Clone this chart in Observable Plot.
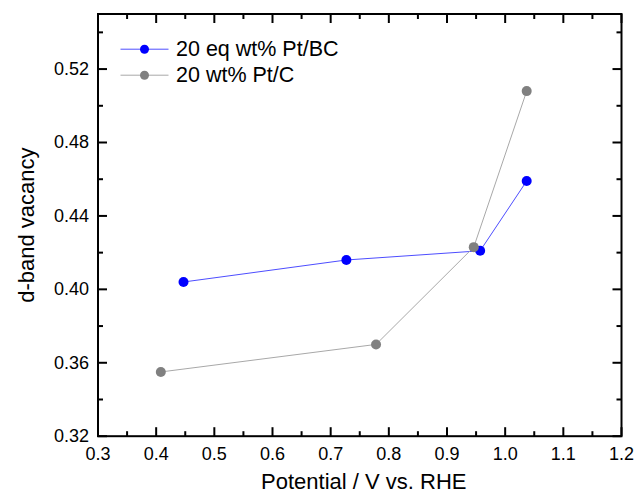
<!DOCTYPE html>
<html><head><meta charset="utf-8">
<script src="https://cdn.jsdelivr.net/npm/d3@7"></script>
<script src="https://cdn.jsdelivr.net/npm/@observablehq/plot@0.6"></script>
<style>
body{margin:0;background:#fff;}
#chart svg{font-family:'Liberation Sans', Arial, sans-serif;font-size:18px;color:#000;background:#fff;}
</style>
</head><body><div id="chart"></div>
<script>
const seriesNames = ["20 eq wt% Pt/BC", "20 wt% Pt/C"];
const markerColors = ["#0000ff", "#808080"];
const lineColors = ["#4d4dff", "#a8a8a8"];
const potentialBC = [0.447, 0.727, 0.957, 1.037];
const vacancyBC = [0.404, 0.416, 0.421, 0.459];
const potentialC = [0.408, 0.778, 0.946, 1.037];
const vacancyC = [0.355, 0.370, 0.423, 0.508];
const xMajorTicks = [0.3, 0.4, 0.5, 0.6, 0.7, 0.8, 0.9, 1.0, 1.1, 1.2];
const xMinorTicks = [0.35, 0.45, 0.55, 0.65, 0.75, 0.85, 0.95, 1.05, 1.15];
const yMajorTicks = [0.32, 0.36, 0.40, 0.44, 0.48, 0.52];
const yMinorTicks = [0.34, 0.38, 0.42, 0.46, 0.50, 0.54];
const xDomain = [0.3, 1.2];
const yDomain = [0.32, 0.55];
const xLabel = "Potential / V vs. RHE";
const yLabel = "d-band vacancy";

const W = 635, Ht = 494;
const mL = 97.5, mR = 14, mT = 13.5, mB = 58.3;
const PW = W - mL - mR, PH = Ht - mT - mB;
// data units per pixel (for inward tick lengths)
const kx = (xDomain[1] - xDomain[0]) / PW;
const ky = (yDomain[1] - yDomain[0]) / PH;
const MAJ = 9, MIN = 5;

const series = seriesNames.map((name, i) => ({
  name,
  rows: (i === 0 ? potentialBC : potentialC).map((x, j) => ({x, y: (i === 0 ? vacancyBC : vacancyC)[j]})),
  marker: markerColors[i],
  line: lineColors[i]
}));

const hline = {draw(ctx) { ctx.moveTo(-24, 0); ctx.lineTo(24, 0); }};
const tickStroke = {stroke: "#000", strokeWidth: 2, strokeOpacity: 1};

const marks = [];
marks.push(Plot.frame({stroke: "#000", strokeWidth: 2}));
// inward ticks on all four sides, drawn as short links
[[xMajorTicks, MAJ], [xMinorTicks, MIN]].forEach(([t, len]) => {
  marks.push(Plot.link(t, {x1: d => d, x2: d => d, y1: () => yDomain[0], y2: () => yDomain[0] + len * ky, ...tickStroke}));
  marks.push(Plot.link(t, {x1: d => d, x2: d => d, y1: () => yDomain[1] - len * ky, y2: () => yDomain[1], ...tickStroke}));
});
[[yMajorTicks, MAJ], [yMinorTicks, MIN]].forEach(([t, len]) => {
  marks.push(Plot.link(t, {y1: d => d, y2: d => d, x1: () => xDomain[0], x2: () => xDomain[0] + len * kx, ...tickStroke}));
  marks.push(Plot.link(t, {y1: d => d, y2: d => d, x1: () => xDomain[1] - len * kx, x2: () => xDomain[1], ...tickStroke}));
});

// data
series.forEach(s => {
  marks.push(Plot.line(s.rows, {x: "x", y: "y", stroke: s.line, strokeWidth: 1}));
  marks.push(Plot.dot(s.rows, {x: "x", y: "y", r: 5, fill: s.marker, stroke: "none"}));
});

// legend
series.forEach((s, i) => {
  const dy = 35.2 + i * 26;
  marks.push(Plot.dot([s.name], {frameAnchor: "top-left", dx: 46.5, dy, symbol: hline, stroke: s.line, strokeWidth: 1, fill: "none"}));
  marks.push(Plot.dot([s.name], {frameAnchor: "top-left", dx: 46.5, dy, r: 4.5, fill: s.marker, stroke: "none"}));
  marks.push(Plot.text([s.name], {text: d => d, frameAnchor: "top-left", dx: 78, dy, textAnchor: "start", lineAnchor: "middle", fontSize: 21.5, fill: "black"}));
});

// axis titles
marks.push(Plot.text([xLabel], {text: d => d, frameAnchor: "bottom", dx: 4, dy: 52.5, textAnchor: "middle", lineAnchor: "bottom", fontSize: 22, fill: "black"}));
marks.push(Plot.text([yLabel], {text: d => d, frameAnchor: "left", dx: -64.5, rotate: -90, textAnchor: "middle", lineAnchor: "bottom", fontSize: 22, fill: "black"}));

const chart = Plot.plot({
  width: W, height: Ht,
  marginLeft: mL, marginRight: mR, marginTop: mT, marginBottom: mB,
  x: {domain: xDomain, ticks: xMajorTicks, tickSize: 0, tickPadding: 11, tickFormat: d3.format(".1f"), label: null},
  y: {domain: yDomain, ticks: yMajorTicks, tickSize: 0, tickPadding: 9, tickFormat: d3.format(".2f"), label: null},
  marks
});
document.getElementById("chart").appendChild(chart);
</script>
</body></html>
